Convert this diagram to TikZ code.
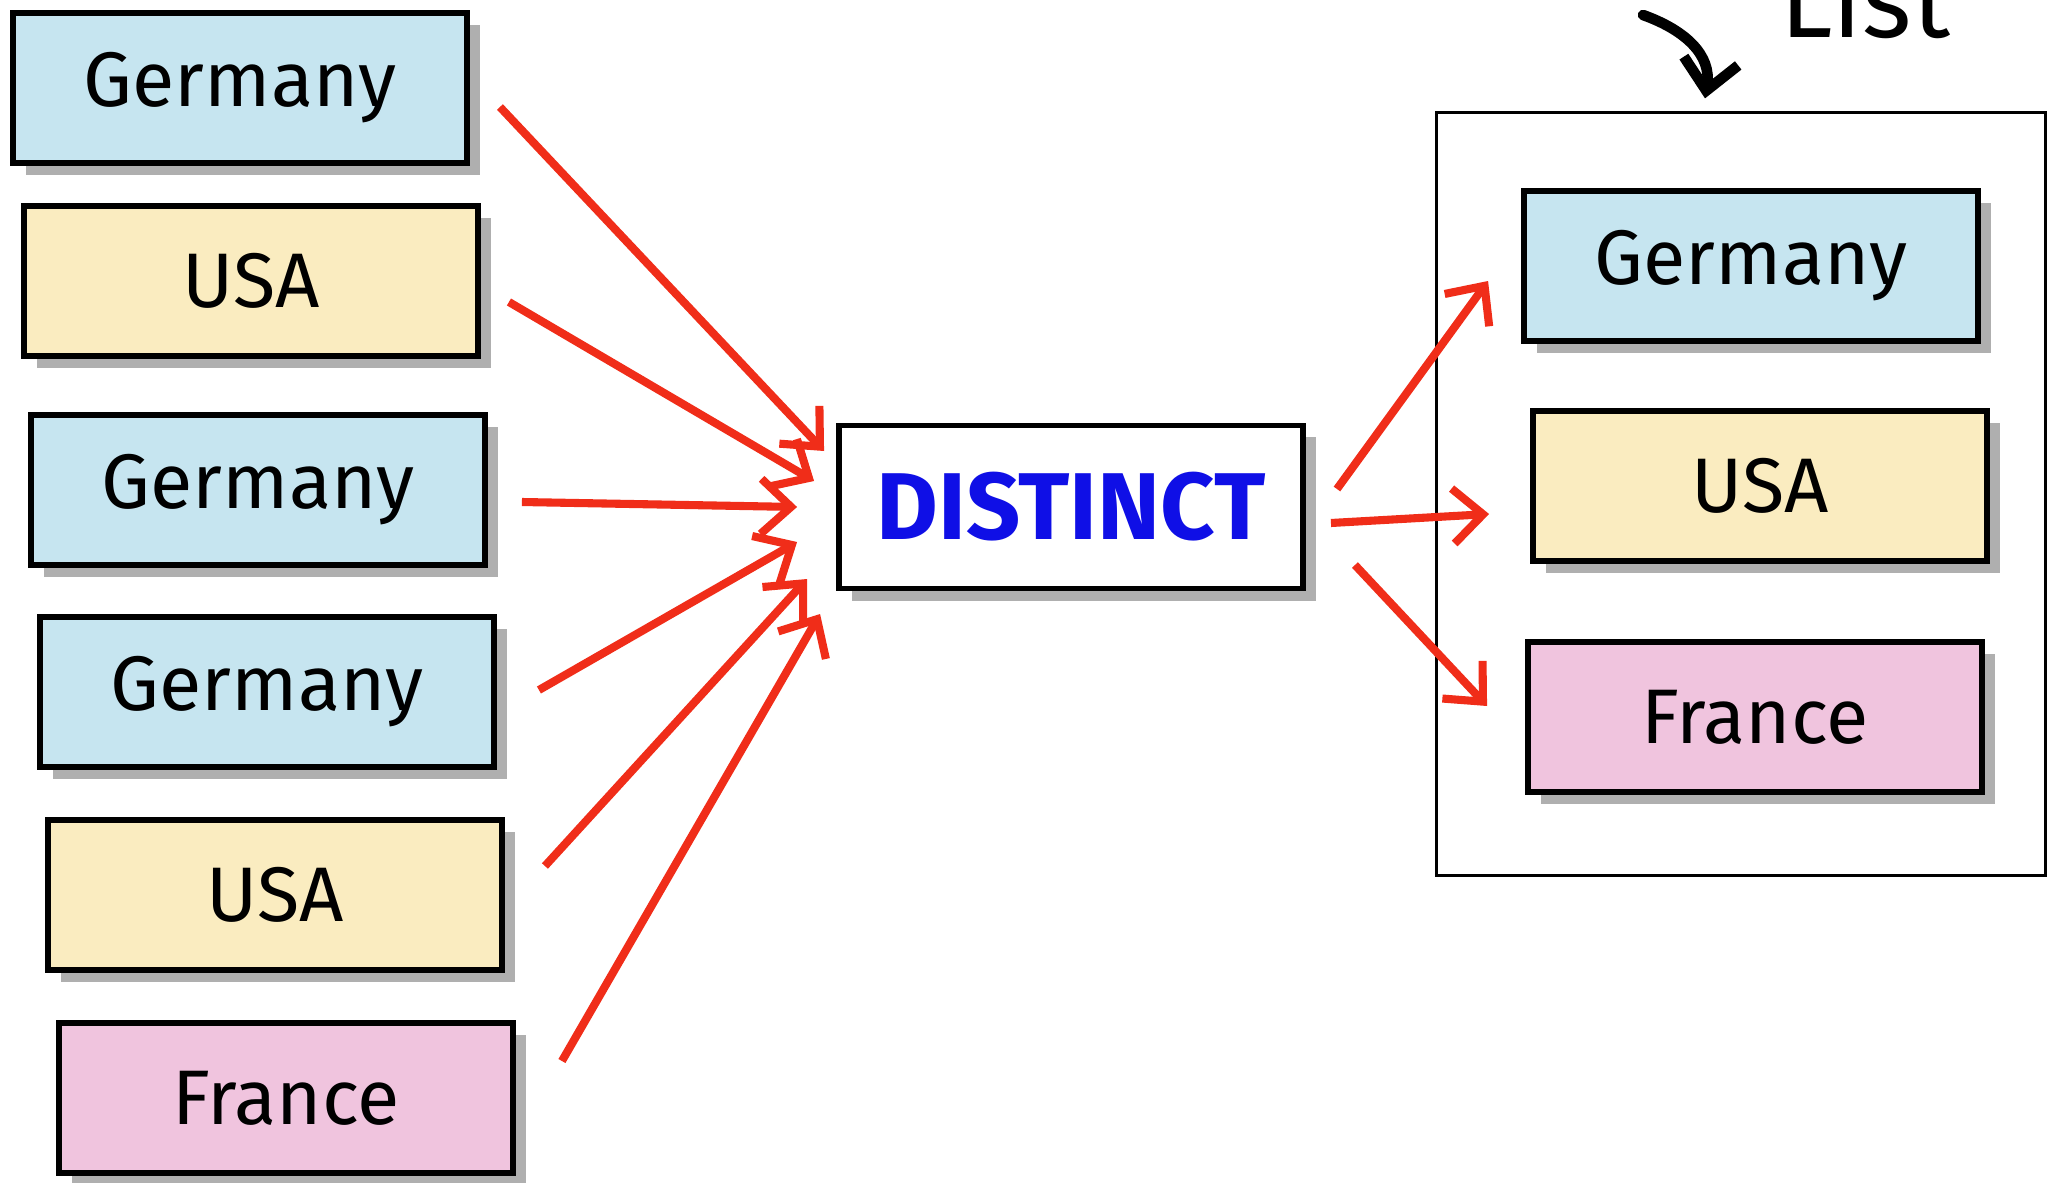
\documentclass[tikz,border=0pt]{standalone}
\usepackage{fontspec}
\setmainfont{Fira Sans}
\usetikzlibrary{positioning, arrows.meta, shadows, calc}
\definecolor{paleblue}{RGB}{198,229,240}
\definecolor{paleyellow}{RGB}{250,236,192}
\definecolor{palepink}{RGB}{240,196,222}
\definecolor{flowred}{RGB}{240,45,25}
\definecolor{opblue}{RGB}{15,15,230}
\tikzset{
    >={Straight Barb[length=3mm,width=5.5mm]}, % open arrow heads
    item/.style={draw, line width=1.6pt, minimum width=4.54cm, minimum height=1.5cm,
        drop shadow={shadow xshift=1.3mm, shadow yshift=-1.2mm, fill=black!35, opacity=0.9},
        font=\fontsize{22}{26}\selectfont}, % every value box
    de/.style={item, fill=paleblue},
    us/.style={item, fill=paleyellow},
    fr/.style={item, fill=palepink},
    flow/.style={->, draw=flowred, line width=2.3pt} % the red arrows
}
\begin{document}
\begin{tikzpicture}[x=0.01cm, y=-0.01cm]
    \useasboundingbox (0,0) rectangle (2049,1182);
    % Eingabe
    \node[de] (G1) at (240,88) {Germany};
    \node[us] (U1) at (251,281) {USA};
    \node[de] (G2) at (258,490) {Germany};
    \node[de] (G3) at (267,692) {Germany};
    \node[us] (U2) at (275,895) {USA};
    \node[fr] (F1) at (286,1098) {France};

    % Operator
    \node[item, fill=white, minimum width=4.64cm, minimum height=1.63cm, text=opblue,
        font=\fontsize{27}{32}\selectfont\bfseries] (D) at (1071,507) {DISTINCT};

    % Ergebnis
    \node[draw, line width=0.8pt, minimum width=6.08cm, minimum height=7.62cm] (LS) at (1741,494) {};
    \node[de] (RG) at (1751,266) {Germany};
    \node[us] (RU) at (1760,486) {USA};
    \node[fr] (RF) at (1755,717) {France};
    \node[font=\fontsize{30}{36}\selectfont, anchor=base west] (LT) at (1768,38) {List};
    \coordinate (ca) at (1643,15);

    % Pfeile
    \draw[flow] ($(G1.east)+(30,19)$) -- ($(D.west)+(-12,-56)$);
    \draw[flow] ($(U1.east)+(28,21)$) -- ($(D.west)+(-22,-26)$);
    \draw[flow] ($(G2.east)+(34,12)$) -- ($(D.west)+(-39,0)$);
    \draw[flow] ($(G3.east)+(42,-2)$) -- ($(D.west)+(-39,35)$);
    \draw[flow] ($(U2.east)+(40,-29)$) -- ($(D.west)+(-29,72)$);
    \draw[flow] ($(F1.east)+(46,-37)$) -- ($(D.west)+(-16,107)$);
    \draw[flow] ($(D.east)+(31,-18)$) -- ($(RG.west)+(-33,15)$);
    \draw[flow] ($(D.east)+(25,16)$) -- ($(RU.west)+(-41,28)$);
    \draw[flow] ($(D.east)+(49,58)$) -- ($(RF.west)+(-38,-11)$);
    \draw[->, line width=3pt, line cap=round] (ca) .. controls (1685,30) and (1712,55) .. ($(LS.north)+(-36,-13)$);
\end{tikzpicture}
\end{document}
